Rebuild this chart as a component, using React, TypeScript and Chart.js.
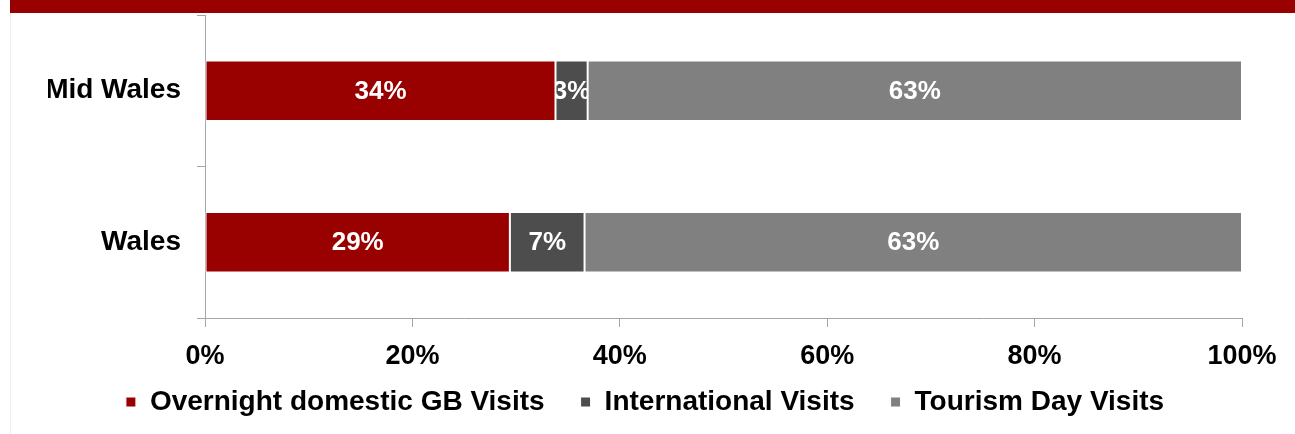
import React, { useEffect, useRef } from "react";
import { Chart, registerables } from "chart.js";

Chart.register(...registerables);

const categories = ["Mid Wales", "Wales"];
const overnightDomestic = [33.8, 29.4];
const international = [3.1, 7.2];
const dayVisits = [63.1, 63.4];
const xTickValues = [0, 20, 40, 60, 80, 100];
const seriesNames = ["Overnight domestic GB Visits", "International Visits", "Tourism Day Visits"];
const seriesColors = ["#990000", "#4D4D4D", "#808080"];

const FONT = "'Liberation Sans', Arial, sans-serif";
const AXIS_COLOR = "#A6A6A6";

const segmentLabels = {
  id: "segmentLabels",
  afterLayout(chart: any) {
    // let the x tick labels draw below the compact scale box (no clipping)
    const s = chart.scales.x;
    if (s) s.bottom = s.top + 60;
  },
  afterDatasetsDraw(chart: any) {
    const ctx = chart.ctx;
    chart.data.datasets.forEach((ds: any, di: number) => {
      const meta = chart.getDatasetMeta(di);
      meta.data.forEach((bar: any, i: number) => {
        const v = ds.data[i];
        const { x, y, base, height } = bar.getProps(["x", "y", "base", "height"], true);
        const left = Math.min(x, base);
        const right = Math.max(x, base);
        ctx.save();
        ctx.beginPath();
        ctx.rect(left, y - height / 2, right - left, height);
        ctx.clip();
        ctx.fillStyle = "#FFFFFF";
        ctx.font = `bold 26px ${FONT}`;
        ctx.textAlign = "center";
        ctx.textBaseline = "middle";
        ctx.fillText(Math.round(v) + "%", (left + right) / 2, y + 1);
        ctx.restore();
      });
    });
  },
};

export default function App() {
  const canvasRef = useRef<HTMLCanvasElement | null>(null);

  useEffect(() => {
    if (!canvasRef.current) return;
    const seriesData = [overnightDomestic, international, dayVisits];
    const chart = new Chart(canvasRef.current, {
      type: "bar",
      data: {
        labels: categories,
        datasets: seriesNames.map((name, k) => ({
          label: name,
          data: seriesData[k],
          backgroundColor: seriesColors[k],
          borderColor: "#FFFFFF",
          borderWidth: 1,
          borderSkipped: false,
          categoryPercentage: 1,
          barPercentage: 0.4,
        })),
      },
      options: {
        indexAxis: "y",
        responsive: false,
        devicePixelRatio: 1,
        animation: false,
        layout: { padding: { left: 48, right: 53, top: 15, bottom: 8 } },
        plugins: {
          tooltip: { enabled: false },
          legend: {
            position: "bottom",
            labels: {
              boxWidth: 10,
              boxHeight: 10,
              padding: 36,
              color: "#000000",
              font: { family: FONT, size: 28, weight: "bold" },
            },
          },
        },
        scales: {
          x: {
            type: "linear",
            stacked: true,
            min: 0,
            max: 100,
            afterBuildTicks: (scale: any) => {
              scale.ticks = xTickValues.map((v) => ({ value: v }));
            },
            afterFit: (scale: any) => {
              scale.height = 34;
              scale.paddingLeft = 0;
              scale.paddingRight = 0;
            },
            ticks: {
              padding: 13,
              color: "#000000",
              font: { family: FONT, size: 27, weight: "bold" },
              callback: (v: any) => v + "%",
            },
            grid: {
              drawOnChartArea: false,
              drawTicks: true,
              tickLength: 9,
              color: AXIS_COLOR,
            },
            border: { color: AXIS_COLOR, width: 1 },
          },
          y: {
            type: "category",
            stacked: true,
            afterFit: (scale: any) => {
              scale.width = 157;
              scale.paddingTop = 0;
              scale.paddingBottom = 0;
            },
            ticks: {
              padding: 16,
              color: "#000000",
              font: { family: FONT, size: 28, weight: "bold" },
            },
            grid: {
              offset: true,
              drawOnChartArea: false,
              drawTicks: true,
              tickLength: 8,
              color: AXIS_COLOR,
            },
            border: { color: AXIS_COLOR, width: 1 },
          },
        },
      },
      plugins: [segmentLabels],
    } as any);
    return () => chart.destroy();
  }, []);

  return (
    <div
      style={{
        position: "fixed",
        left: 0,
        top: 0,
        width: 1295,
        height: 434,
        background: "#FFFFFF",
        overflow: "hidden",
      }}
    >
      <canvas ref={canvasRef} width={1295} height={434} style={{ position: "absolute", left: 0, top: 0 }} />
      <div style={{ position: "absolute", left: 10, top: 0, width: 1285, height: 13, background: "#990000" }} />
      <div style={{ position: "absolute", left: 10, top: 13, width: 1, height: 421, background: "#EEEEEE" }} />
    </div>
  );
}
